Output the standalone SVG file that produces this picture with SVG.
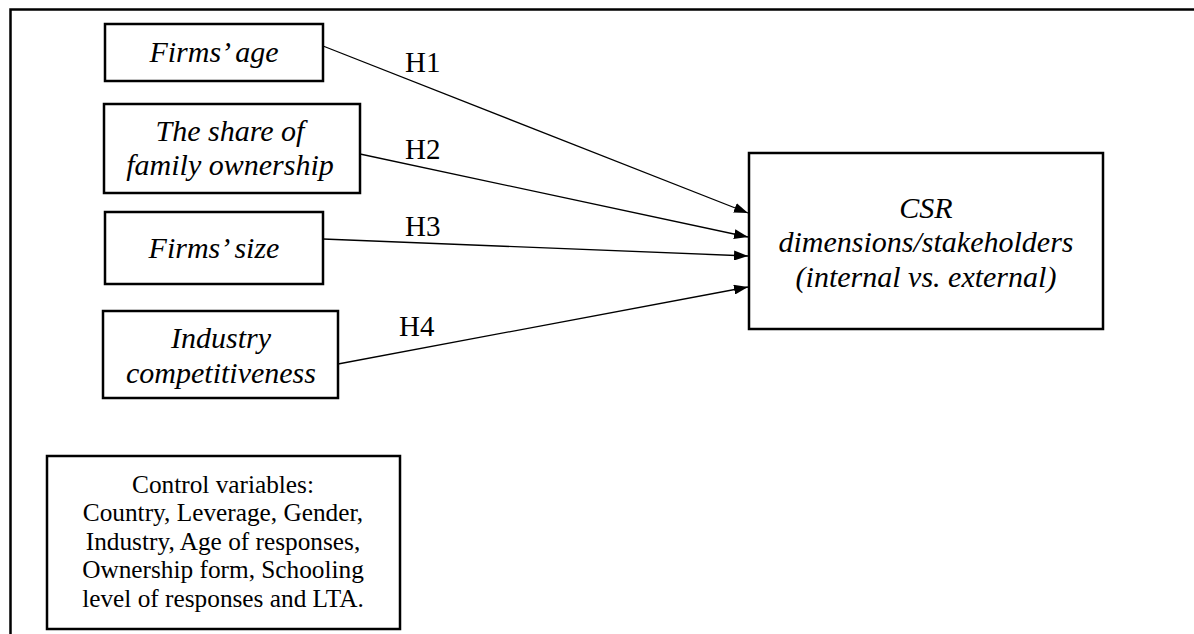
<svg xmlns="http://www.w3.org/2000/svg" width="1194" height="634" viewBox="0 0 1194 634">
<defs>
<marker id="ah" markerWidth="14" markerHeight="10" refX="14" refY="5" orient="auto" markerUnits="userSpaceOnUse">
<path d="M0,0 L14,5 L0,10 Z" fill="#000"/>
</marker>
<style>
.box{fill:#fff;stroke:#000;stroke-width:2.5}
.it{font-family:"Liberation Serif",serif;font-style:italic;font-size:30px;fill:#000;text-anchor:middle}
.rg{font-family:"Liberation Serif",serif;font-size:25.3px;fill:#000;text-anchor:middle}
.lb{font-family:"Liberation Serif",serif;font-size:29px;fill:#000}
.ed{stroke:#000;stroke-width:1.3;fill:none;marker-end:url(#ah)}
</style>
</defs>
<rect width="1194" height="634" fill="#fff"/>
<path d="M10.5,634 L10.5,9.5 L1194,9.5" fill="none" stroke="#000" stroke-width="2.5"/>
<g id="connectors">
<line class="ed" x1="323" y1="46" x2="748" y2="213"/>
<line class="ed" x1="360" y1="154" x2="748" y2="237"/>
<line class="ed" x1="323" y1="239" x2="748" y2="256"/>
<line class="ed" x1="338" y1="364" x2="748" y2="287"/>
<text class="lb" x="405" y="72">H1</text>
<text class="lb" x="405" y="159">H2</text>
<text class="lb" x="405" y="236">H3</text>
<text class="lb" x="399" y="336">H4</text>
</g>
<g id="n1">
<rect class="box" x="105" y="24" width="218" height="57"/>
<text class="it" x="214" y="62">Firms’ age</text>
</g>
<g id="n2">
<rect class="box" x="104" y="104" width="256" height="89"/>
<text class="it" x="230" y="141">The share of</text>
<text class="it" x="230" y="175">family ownership</text>
</g>
<g id="n3">
<rect class="box" x="105" y="212" width="218" height="72"/>
<text class="it" x="214" y="258">Firms’ size</text>
</g>
<g id="n4">
<rect class="box" x="103" y="311" width="235" height="87"/>
<text class="it" x="221" y="348">Industry</text>
<text class="it" x="221" y="383">competitiveness</text>
</g>
<g id="n5">
<rect class="box" x="749" y="153" width="354" height="176"/>
<text class="it" x="926" y="218">CSR</text>
<text class="it" x="926" y="252">dimensions/stakeholders</text>
<text class="it" x="926" y="287">(internal vs. external)</text>
</g>
<g id="n6">
<rect class="box" x="47" y="456" width="353" height="173"/>
<text class="rg" x="223" y="493">Control variables:</text>
<text class="rg" x="223" y="521">Country, Leverage, Gender,</text>
<text class="rg" x="223" y="550">Industry, Age of responses,</text>
<text class="rg" x="223" y="578">Ownership form, Schooling</text>
<text class="rg" x="223" y="607">level of responses and LTA.</text>
</g>
</svg>
